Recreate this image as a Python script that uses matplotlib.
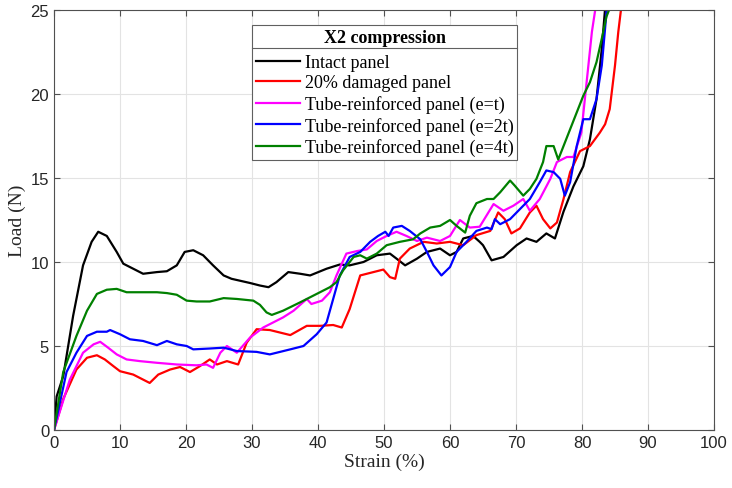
import matplotlib
matplotlib.use("Agg")
import matplotlib.pyplot as plt
from matplotlib.lines import Line2D

# strain (%) / load (N)
intact_x = [0, 0.4, 1.4, 2.9, 4.4, 5.7, 6.7, 8.0, 9.5, 10.5, 12.0, 13.5, 15.6, 17.1, 18.6, 19.8,
            21.1, 22.6, 24.1, 25.7, 26.9, 29.7, 31.2, 32.5, 33.7, 35.5, 37.3, 38.8, 41.3, 43.3,
            44.8, 46.9, 48.9, 50.9, 51.9, 53.2, 55.0, 56.5, 58.5, 60.0, 61.0, 62.0, 63.5, 64.5,
            65.0, 66.3, 68.1, 70.1, 71.6, 73.1, 74.6, 75.9, 77.2, 78.7, 80.2, 81.2, 82.2, 83.0,
            83.5, 83.7]
intact_y = [0, 2.0, 3.2, 6.8, 9.8, 11.2, 11.8, 11.55, 10.6, 9.9, 9.6, 9.3, 9.4, 9.45, 9.8, 10.6,
            10.7, 10.4, 9.8, 9.2, 9.0, 8.75, 8.6, 8.5, 8.8, 9.4, 9.3, 9.2, 9.6, 9.85,
            9.8, 10.0, 10.4, 10.5, 10.2, 9.8, 10.2, 10.6, 10.8, 10.4, 10.6, 11.4, 11.55, 11.2,
            11.0, 10.1, 10.3, 11.0, 11.4, 11.2, 11.7, 11.4, 13.0, 14.5, 15.7, 17.3, 19.7, 22.7,
            25.1, 26]

damaged_x = [0, 1.4, 3.4, 5.0, 6.5, 7.7, 9.0, 10.0, 12.0, 13.5, 14.5, 15.8, 17.6, 19.1, 20.6,
             22.1, 23.6, 24.7, 26.2, 27.9, 29.2, 30.7, 32.7, 35.8, 38.3, 40.3, 42.3, 43.6, 44.8,
             46.4, 48.4, 49.9, 50.9, 51.7, 52.4, 53.9, 56.0, 58.0, 60.0, 62.0, 64.0, 66.1, 67.3,
             68.3, 69.3, 70.6, 72.1, 73.1, 74.1, 75.2, 76.2, 77.2, 78.2, 79.7, 81.2, 82.7, 83.5,
             84.2, 85.0, 85.5, 85.9, 86.1]
damaged_y = [0, 1.85, 3.6, 4.3, 4.45, 4.2, 3.8, 3.5, 3.3, 3.0, 2.8, 3.3, 3.6, 3.75, 3.45,
             3.8, 4.2, 3.9, 4.1, 3.9, 5.2, 6.0, 5.95, 5.65, 6.2, 6.2, 6.25, 6.1, 7.2,
             9.2, 9.4, 9.55, 9.1, 9.0, 10.2, 10.8, 11.2, 11.1, 11.2, 11.0, 11.6, 11.85, 12.95,
             12.55, 11.7, 12.0, 12.95, 13.35, 12.55, 12.0, 12.35, 13.75, 15.35, 16.6, 16.9, 17.7, 18.2,
             19.1, 21.7, 23.7, 25.0, 26]

tube_t_x = [0, 2.4, 4.4, 6.0, 7.0, 8.2, 9.5, 11.0, 13.0, 15.6, 18.6, 21.6, 23.1, 24.1, 25.2,
            26.2, 27.7, 29.7, 31.7, 32.7, 34.7, 36.3, 38.3, 39.0, 40.6, 41.8, 42.8, 44.3, 45.9,
            47.4, 48.9, 50.4, 51.9, 53.4, 55.0, 56.5, 58.5, 60.0, 61.5, 63.0, 64.5, 66.6, 68.1,
            69.6, 71.1, 72.1, 73.6, 75.2, 76.2, 77.7, 78.7, 79.9, 80.7, 81.5, 82.0, 82.2]
tube_t_y = [0, 3.0, 4.6, 5.1, 5.25, 4.9, 4.5, 4.2, 4.1, 4.0, 3.9, 3.85, 3.9, 3.7, 4.6,
            5.0, 4.6, 5.5, 6.1, 6.3, 6.7, 7.1, 7.8, 7.5, 7.7, 8.2, 9.2, 10.5, 10.65,
            10.75, 11.25, 11.55, 11.8, 11.55, 11.25, 11.45, 11.25, 11.55, 12.5, 12.05, 12.1, 13.45, 13.05,
            13.35, 13.75, 13.05, 13.75, 14.95, 15.95, 16.25, 16.25, 17.7, 20.7, 23.7, 25.0, 26]

tube_2t_x = [0, 1.9, 3.4, 5.0, 6.5, 8.0, 8.5, 10.0, 11.5, 13.5, 15.6, 17.1, 18.6, 20.1, 21.1,
             23.6, 25.7, 27.7, 30.7, 32.7, 35.8, 37.8, 39.8, 41.3, 42.3, 43.3, 44.8, 46.4, 47.9,
             49.1, 50.2, 50.7, 51.4, 52.7, 53.9, 55.5, 56.5, 57.5, 58.7, 60.0, 61.0, 62.5, 64.0,
             65.6, 66.3, 66.8, 67.6, 69.1, 70.6, 72.1, 73.6, 74.6, 75.7, 76.7, 77.4, 78.2, 79.2,
             80.2, 81.2, 82.2, 83.0, 83.7, 83.9]
tube_2t_y = [0, 3.45, 4.6, 5.6, 5.85, 5.85, 5.95, 5.7, 5.4, 5.3, 5.05, 5.3, 5.1, 5.0, 4.8,
             4.85, 4.9, 4.7, 4.65, 4.5, 4.8, 5.0, 5.7, 6.4, 7.8, 9.2, 10.3, 10.6, 11.2,
             11.55, 11.8, 11.55, 12.05, 12.15, 11.85, 11.35, 10.6, 9.8, 9.2, 9.7, 10.6, 11.2, 11.85,
             12.05, 11.95, 12.55, 12.25, 12.55, 13.15, 13.75, 14.75, 15.45, 15.35, 14.95, 13.95, 14.75, 16.9,
             18.5, 18.5, 19.7, 21.7, 24.8, 26]

tube_4t_x = [0, 1.4, 3.4, 5.0, 6.5, 8.0, 9.5, 11.0, 12.5, 14.0, 15.6, 17.1, 18.6, 20.1, 21.6,
             23.6, 25.7, 27.7, 30.2, 31.2, 32.2, 33.0, 34.7, 37.3, 39.8, 41.8, 42.8, 43.8, 45.4,
             46.4, 47.4, 48.9, 50.4, 52.4, 54.4, 55.5, 57.0, 58.5, 60.0, 61.0, 62.3, 63.0, 64.0,
             65.6, 66.6, 67.6, 69.1, 69.8, 71.1, 72.1, 73.1, 74.1, 74.6, 75.7, 76.4, 77.4, 78.4,
             79.4, 80.2, 81.2, 82.2, 83.0, 83.7, 84.1, 84.4]
tube_4t_y = [0, 3.45, 5.6, 7.1, 8.1, 8.35, 8.4, 8.2, 8.2, 8.2, 8.2, 8.15, 8.05, 7.7, 7.65,
             7.65, 7.85, 7.8, 7.7, 7.45, 7.0, 6.85, 7.1, 7.6, 8.1, 8.5, 8.8, 9.5, 10.3,
             10.4, 10.2, 10.5, 11.0, 11.2, 11.35, 11.7, 12.05, 12.15, 12.5, 12.15, 11.75, 12.75, 13.5,
             13.75, 13.75, 14.15, 14.85, 14.55, 13.95, 14.35, 14.95, 15.95, 16.9, 16.9, 16.1, 17.1, 18.1,
             19.1, 19.9, 20.7, 21.9, 23.3, 24.6, 25.0, 26]

labels = ["Intact panel", "20% damaged panel", "Tube-reinforced panel (e=t)",
          "Tube-reinforced panel (e=2t)", "Tube-reinforced panel (e=4t)"]
colors = ["black", "#ff0000", "#ff00ff", "#0000ff", "#008000"]

fig = plt.figure(figsize=(7.32, 4.89), dpi=100)
ax = fig.add_axes([54 / 732, 1 - 431 / 489, 660 / 732, 420 / 489])

series = [(intact_x, intact_y), (damaged_x, damaged_y), (tube_t_x, tube_t_y),
          (tube_2t_x, tube_2t_y), (tube_4t_x, tube_4t_y)]
for (xs, ys), lab, c in zip(series, labels, colors):
    ax.plot(xs, ys, color=c, lw=1.6, label=lab)

ax.set_xlim(0, 100)
ax.set_ylim(0, 25)
ax.set_xticks(range(0, 101, 10))
ax.set_yticks(range(0, 26, 5))
ax.grid(True, color="#e3e3e3", lw=0.8)
ax.set_axisbelow(True)
for s in ax.spines.values():
    s.set_color("#505050")
    s.set_linewidth(0.8)
ax.tick_params(direction="in", length=4, color="#505050", labelcolor="#262626",
               labelsize=12, top=True, right=True)
for lbl in ax.get_xticklabels() + ax.get_yticklabels():
    lbl.set_family("Liberation Sans")

ax.set_xlabel("Strain (%)", family="Liberation Serif", fontsize=14, color="#262626", labelpad=2)
ax.set_ylabel("Load (N)", family="Liberation Serif", fontsize=14, color="#262626", labelpad=3)

leg = ax.legend(loc="upper left", bbox_to_anchor=(0.30, 0.964), borderaxespad=0,
                title="X2 compression", fancybox=False, framealpha=1, edgecolor="#606060",
                prop={"family": "Liberation Serif", "size": 13}, handlelength=2.45,
                handletextpad=0.25, labelspacing=0.2, borderpad=0.22)
leg.get_title().set_fontproperties({"family": "Liberation Serif", "size": 13, "weight": "bold"})
leg.get_frame().set_linewidth(0.8)
# a bit more room between the title and the entries
leg._legend_box.sep += 3

# separator under the legend title
fig.canvas.draw()
fb = leg.get_window_extent()
tb = leg.get_title().get_window_extent()
ysep = tb.y0 - 2
inv = fig.transFigure.inverted()
p0 = inv.transform((fb.x0, ysep))
p1 = inv.transform((fb.x1, ysep))
fig.add_artist(Line2D([p0[0], p1[0]], [p0[1], p1[1]], color="#606060", lw=0.8))

fig.savefig("out.png", dpi=100)
